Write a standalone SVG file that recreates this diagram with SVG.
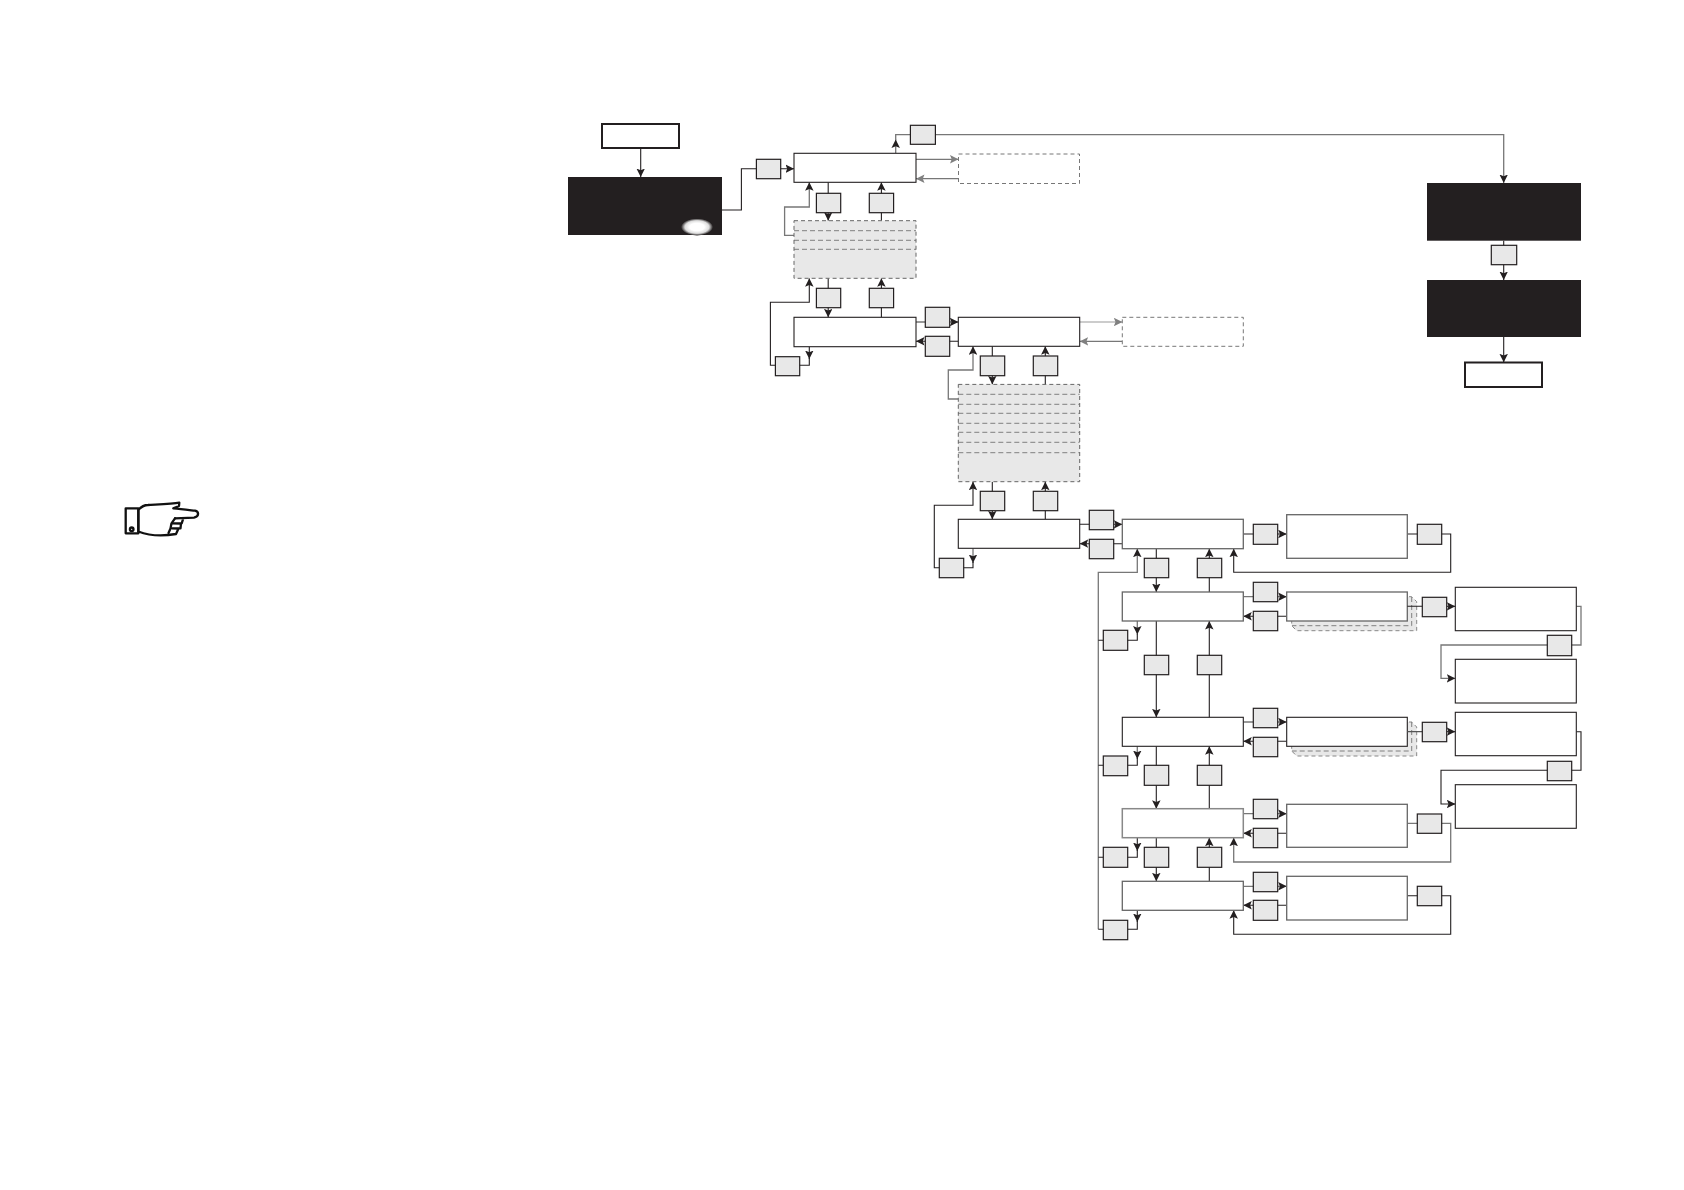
<svg xmlns="http://www.w3.org/2000/svg" width="1684" height="1190" viewBox="0 0 1684 1190">
<style>
.b{fill:#fff;stroke:#231f20;stroke-width:1.1}
.bs{fill:#fff;stroke:#666;stroke-width:1.3}
.bl{fill:#fff;stroke:#888;stroke-width:1.5}
.t{fill:#fff;stroke:#231f20;stroke-width:2}
.k{fill:#231f20}
.s{fill:#e8e8e8;stroke:#231f20;stroke-width:1.2}
.d{fill:#fff;stroke:#777;stroke-width:1;stroke-dasharray:4 3}
.g{fill:#e8e8e8;stroke:#666;stroke-width:1;stroke-dasharray:4 3}
.gl{fill:none;stroke:#666;stroke-width:0.8;stroke-dasharray:5 3}
.sh{fill:#e8e8e8;stroke:#888;stroke-width:1;stroke-dasharray:4 3}
#connectors path{fill:none;stroke:#231f20;stroke-width:1.1}
#connectors .m{stroke:#777;stroke-width:1.3}
#connectors .l{stroke:#999;stroke-width:1.2}
#connectors path.a{marker-end:url(#ah)}
#connectors path.ag{marker-end:url(#ahg)}
.hand{fill:#fff;stroke:#111;stroke-width:2.3;stroke-linejoin:round;stroke-linecap:round}
</style>
<defs>
<marker id="ah" markerUnits="userSpaceOnUse" markerWidth="8.5" markerHeight="8.5" viewBox="0 0 8 8" refX="8" refY="4" orient="auto"><path d="M8,4 L0,0 L1.6,4 L0,8 Z" fill="#231f20"/></marker>
<marker id="ahg" markerUnits="userSpaceOnUse" markerWidth="8.5" markerHeight="8.5" viewBox="0 0 8 8" refX="8" refY="4" orient="auto"><path d="M8,4 L0,0 L1.6,4 L0,8 Z" fill="#808080"/></marker>
<radialGradient id="glow"><stop offset="0.45" stop-color="#fff"/><stop offset="0.75" stop-color="#ddd"/><stop offset="1" stop-color="#231f20"/></radialGradient>
</defs>
<rect width="1684" height="1190" fill="#fff"/>
<g id="connectors">
<path class="a" d="M640.7,148V177"/>
<path class="a" d="M722,210H741.4V168.7H794"/>
<path class="a m" d="M895.7,153V139.5"/>
<path class="a m" d="M895.7,140V134.7H1503.7V183"/>
<path class="ag m" d="M916,159.3H958.5"/>
<path class="ag m" d="M958.5,178.7H916"/>
<path class="a" d="M828.2,182.3V220.7"/>
<path class="a" d="M881.4,220.7V182.3"/>
<path class="a" d="M828.2,278.3V317.3"/>
<path class="a" d="M881.4,317.3V278.3"/>
<path class="a m" d="M794,235.3H784.6V207H809.3V182.3"/>
<path class="a" d="M809.3,346.7V359"/>
<path class="a" d="M809.3,358V365.3H770.4V302.3H809.3V278.3"/>
<path class="a m" d="M916,322H958.3"/>
<path class="a" d="M958.3,341.3H916"/>
<path class="ag l" d="M1079.7,322H1122.3"/>
<path class="ag m" d="M1122.3,341.3H1079.7"/>
<path class="a" d="M992.3,346.3V384.4"/>
<path class="a" d="M1045.3,384.4V346.3"/>
<path class="a m" d="M958.3,399H948.3V370H973V346.3"/>
<path class="a" d="M992.3,481.7V519.3"/>
<path class="a" d="M1045.3,519.3V481.7"/>
<path class="a m" d="M973,548.3V563"/>
<path class="a" d="M973,562V567.7H934.3V505.3H973V481.7"/>
<path class="a" d="M1079.7,524.3H1122.3"/>
<path class="a" d="M1122.3,543.7H1079.7"/>
<path class="a" d="M1156.3,548.7V592"/>
<path class="a" d="M1209.3,592V548.7"/>
<path class="a" d="M1243.3,534H1286.7"/>
<path class="a" d="M1407.3,534H1450.7V572.3H1233.7V548.7"/>
<path class="a m" d="M1098.3,929.3V572.3H1137.3V548.7"/>
<path class="a m" d="M1243.3,596.7H1286.7"/>
<path class="a" d="M1286.7,616.3H1243.3"/>
<path class="a m" d="M1137.3,621V634.5"/>
<path d="M1137.3,634V640.3H1098.3"/>
<path class="a" d="M1156.3,621V717.3"/>
<path class="a" d="M1209.3,717.3V621"/>
<path class="a m" d="M1576.3,606.3H1581V645H1441V678.3H1455.3"/>
<path class="a m" d="M1243.3,722H1286.7"/>
<path class="a" d="M1286.7,741.3H1243.3"/>
<path class="a m" d="M1137.3,746.3V759"/>
<path d="M1137.3,758V765.3H1098.3"/>
<path class="a" d="M1156.3,746.3V808.7"/>
<path class="a" d="M1209.3,808.7V746.3"/>
<path class="a" d="M1576.3,731.7H1581V770.3H1441V804H1455.3"/>
<path class="a m" d="M1243.3,813.7H1286.7"/>
<path class="a" d="M1286.7,833.3H1243.3"/>
<path class="a" d="M1137.3,837.7V851"/>
<path d="M1137.3,850V857.3H1098.3"/>
<path class="a" d="M1156.3,837.7V881.3"/>
<path class="a" d="M1209.3,881.3V837.7"/>
<path class="a m" d="M1407.3,823.3H1450.7V862H1233.7V837.7"/>
<path class="a m" d="M1243.3,886.3H1286.7"/>
<path class="a" d="M1286.7,905.3H1243.3"/>
<path class="a" d="M1137.3,910.3V922"/>
<path d="M1137.3,921V929.3H1098.3"/>
<path class="a" d="M1407.3,895.7H1450.7V934.3H1233.7V910.3"/>
<path class="a" d="M1503.7,240.7V280"/>
<path class="a" d="M1503.7,337V362.3"/>
</g>
<g id="start"><rect class="t" x="602" y="124" width="77" height="24"/></g>
<g id="panel-a"><rect class="k" x="568" y="177" width="154" height="58"/><ellipse cx="697" cy="227" rx="16" ry="8.5" fill="url(#glow)"/></g>
<g id="box-1"><rect class="b" x="794" y="153.3" width="122" height="29"/></g>
<g id="dashed-1"><rect class="d" x="958.5" y="154" width="121" height="29.5"/></g>
<g id="stack-1"><rect class="g" x="794" y="220.7" width="122" height="57.6"/><path class="gl" d="M794,230.7H916M794,240.3H916M794,249.3H916"/></g>
<g id="box-2"><rect class="b" x="794" y="317.3" width="122" height="29.4"/></g>
<g id="box-3"><rect class="b" x="958.3" y="317.3" width="121.4" height="29"/></g>
<g id="dashed-2"><rect class="d" x="1122.3" y="317.3" width="121" height="29"/></g>
<g id="stack-2"><rect class="g" x="958.3" y="384.4" width="121.4" height="97.3"/><path class="gl" d="M958.3,394.3H1079.7M958.3,404.3H1079.7M958.3,413.3H1079.7M958.3,423.3H1079.7M958.3,432.3H1079.7M958.3,442.3H1079.7M958.3,452.7H1079.7"/></g>
<g id="box-4"><rect class="b" x="958.3" y="519.3" width="121.4" height="29"/></g>
<g id="box-5"><rect class="bs" x="1122.3" y="519.3" width="121" height="29.4"/></g>
<g id="box-6"><rect class="bs" x="1122.3" y="592" width="121" height="29"/></g>
<g id="box-7"><rect class="b" x="1122.3" y="717.3" width="121" height="29"/></g>
<g id="box-8"><rect class="bl" x="1122.3" y="808.7" width="121" height="29"/></g>
<g id="box-9"><rect class="bs" x="1122.3" y="881.3" width="121" height="29"/></g>
<g id="result-1"><rect class="bs" x="1286.7" y="514.7" width="120.6" height="43.6"/></g>
<g id="result-2"><path class="sh" d="M1395,596.7H1411.7L1416.7,601.7V630.7H1296.7L1291.7,625.7V612"/><path class="gl" d="M1411.7,597V625.7H1292"/><rect class="bs" x="1286.7" y="592" width="120.6" height="29"/></g>
<g id="result-3"><rect class="b" x="1455.3" y="587.3" width="121" height="43.4"/></g>
<g id="result-4"><rect class="b" x="1455.3" y="659.3" width="121" height="43.7"/></g>
<g id="result-5"><path class="sh" d="M1395,722H1411.7L1416.7,727V756H1296.7L1291.7,751V738"/><path class="gl" d="M1411.7,722V751H1292"/><rect class="b" x="1286.7" y="717.3" width="120.6" height="29"/></g>
<g id="result-6"><rect class="b" x="1455.3" y="712.3" width="121" height="43.4"/></g>
<g id="result-7"><rect class="b" x="1455.3" y="784.7" width="121" height="43.6"/></g>
<g id="result-8"><rect class="bs" x="1286.7" y="804.3" width="120.6" height="43"/></g>
<g id="result-9"><rect class="bs" x="1286.7" y="876.3" width="120.6" height="43.7"/></g>
<g id="links-over-shadow">
<path d="M1407.3,606.3H1446" fill="none" stroke="#231f20" stroke-width="1.1"/>
<path d="M1407.3,731.7H1446" fill="none" stroke="#555" stroke-width="1.3"/>
<path d="M1446.7,606.3H1455.3" fill="none" stroke="#231f20" stroke-width="1.1" marker-end="url(#ah)"/>
<path d="M1446.7,731.7H1455.3" fill="none" stroke="#231f20" stroke-width="1.1" marker-end="url(#ah)"/>
</g>
<g id="panel-b"><rect class="k" x="1427" y="183" width="154" height="57.7"/></g>
<g id="panel-c"><rect class="k" x="1427" y="280" width="154" height="57"/></g>
<g id="end"><rect class="t" x="1465" y="362.5" width="77" height="24.5"/></g>
<g id="keys">
<rect class="s" x="756.4" y="159.3" width="24.3" height="19.4"/>
<rect class="s" x="910.4" y="125.3" width="25" height="19"/>
<rect class="s" x="816.4" y="193.3" width="24.3" height="19.4"/>
<rect class="s" x="869.3" y="193.3" width="24.3" height="19.4"/>
<rect class="s" x="816.4" y="288.3" width="24.3" height="19.4"/>
<rect class="s" x="869.3" y="288.3" width="24.3" height="19.4"/>
<rect class="s" x="775.4" y="356.7" width="24.3" height="19"/>
<rect class="s" x="925.3" y="307.3" width="24.4" height="20"/>
<rect class="s" x="925.3" y="336.3" width="24.4" height="20"/>
<rect class="s" x="980.3" y="356" width="24.4" height="19.7"/>
<rect class="s" x="1033.3" y="356" width="24.4" height="19.7"/>
<rect class="s" x="980.3" y="491.3" width="24.4" height="19.4"/>
<rect class="s" x="1033.3" y="491.3" width="24.4" height="19.4"/>
<rect class="s" x="939.3" y="558.3" width="24.4" height="19.4"/>
<rect class="s" x="1089.3" y="510.3" width="24.4" height="19.4"/>
<rect class="s" x="1089.3" y="539.3" width="24.4" height="19.4"/>
<rect class="s" x="1144.3" y="558.3" width="24.4" height="19.4"/>
<rect class="s" x="1197.3" y="558.3" width="24.4" height="19.4"/>
<rect class="s" x="1253.3" y="524.3" width="24.4" height="20"/>
<rect class="s" x="1417.3" y="524.3" width="24.4" height="20"/>
<rect class="s" x="1253.3" y="582.3" width="24.4" height="19.4"/>
<rect class="s" x="1253.3" y="611.3" width="24.4" height="19.4"/>
<rect class="s" x="1422.3" y="597.3" width="24.4" height="19.4"/>
<rect class="s" x="1547.3" y="635.3" width="24.4" height="20.4"/>
<rect class="s" x="1103.3" y="630.3" width="24.4" height="20"/>
<rect class="s" x="1144.3" y="655.3" width="24.4" height="19.4"/>
<rect class="s" x="1197.3" y="655.3" width="24.4" height="19.4"/>
<rect class="s" x="1253.3" y="708.3" width="24.4" height="19.4"/>
<rect class="s" x="1253.3" y="737.3" width="24.4" height="19.4"/>
<rect class="s" x="1422.3" y="722.3" width="24.4" height="19.4"/>
<rect class="s" x="1547.3" y="761.3" width="24.4" height="19.4"/>
<rect class="s" x="1103.3" y="756" width="24.4" height="19.7"/>
<rect class="s" x="1144.3" y="765.3" width="24.4" height="20"/>
<rect class="s" x="1197.3" y="765.3" width="24.4" height="20"/>
<rect class="s" x="1253.3" y="799.3" width="24.4" height="19.4"/>
<rect class="s" x="1253.3" y="828.3" width="24.4" height="19.4"/>
<rect class="s" x="1417.3" y="814" width="24.4" height="19.3"/>
<rect class="s" x="1103.3" y="847.3" width="24.4" height="20"/>
<rect class="s" x="1144.3" y="847.3" width="24.4" height="20"/>
<rect class="s" x="1197.3" y="847.3" width="24.4" height="20"/>
<rect class="s" x="1253.3" y="872.3" width="24.4" height="19.4"/>
<rect class="s" x="1253.3" y="900.3" width="24.4" height="20"/>
<rect class="s" x="1417.3" y="886.3" width="24.4" height="19.4"/>
<rect class="s" x="1103.3" y="920.3" width="24.4" height="19.4"/>
<rect class="s" x="1491.3" y="245.3" width="25.4" height="19.4"/>
</g>
<g id="hand">
<path class="hand" d="M138.3,510C141,507 144,505 148,505C156,504.5 172,504 179.3,502.7L179,506L173.3,508.3C181,509 189,510 195,510.7C199,511.5 199.5,516.5 194,517.7L175,518.3H183.3L181.7,523.3H172L181,523.5L180.5,528.3H172L178.5,528.5L176,534C165,536 150,536 138.3,531.5Z"/>
<rect class="hand" x="125.7" y="508.3" width="12.7" height="25" style="fill:none"/>
<circle class="hand" cx="131.7" cy="529.3" r="1.8"/>
<path class="hand" style="fill:none" d="M175,518.3L171.5,523.3L170.5,528.5L168.5,533"/>
</g>
</svg>
